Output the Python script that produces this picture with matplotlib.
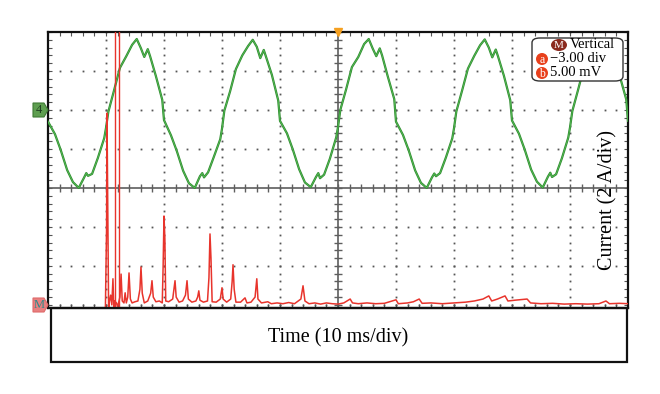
import matplotlib.pyplot as plt
import numpy as np
from matplotlib.patches import Polygon, Ellipse, FancyBboxPatch, Rectangle

# green trace: current (div), time in ms
g_t0 = [0.0, 1.2, 2.2, 3.3, 4.3, 5.3, 6.2, 6.6, 6.9, 7.6, 8.6, 9.7, 10.0, 10.4, 11.4, 12.4, 13.5, 14.5, 15.3, 16.0, 16.6, 17.2, 17.6, 18.6, 19.7]
g_v0 = [1.70, 1.38, 0.97, 0.46, 0.15, 0.0, 0.26, 0.38, 0.31, 0.36, 0.77, 1.28, 1.54, 1.95, 2.51, 3.08, 3.38, 3.67, 3.82, 3.59, 3.36, 3.56, 3.38, 2.87, 2.26]
g_t1 = [20.0, 21.2, 22.2, 23.3, 24.3, 25.3, 26.2, 26.6, 26.9, 27.6, 28.6, 29.7, 30.0, 30.4, 31.4, 32.4, 33.5, 34.5, 35.3, 36.0, 36.6, 37.2, 37.6, 38.6, 39.7]
g_v1 = [1.74, 1.35, 0.95, 0.44, 0.12, 0.0, 0.30, 0.38, 0.27, 0.40, 0.80, 1.25, 1.52, 1.98, 2.48, 3.05, 3.40, 3.64, 3.80, 3.62, 3.33, 3.54, 3.36, 2.90, 2.24]
g_t2 = [40.0, 41.2, 42.2, 43.3, 44.3, 45.3, 46.2, 46.6, 46.9, 47.6, 48.6, 49.7, 50.0, 50.4, 51.4, 52.4, 53.5, 54.5, 55.3, 56.0, 56.6, 57.2, 57.6, 58.6, 59.7]
g_v2 = [1.72, 1.40, 0.99, 0.48, 0.14, 0.02, 0.28, 0.38, 0.25, 0.34, 0.75, 1.30, 1.56, 2.00, 2.53, 3.10, 3.36, 3.69, 3.82, 3.57, 3.38, 3.58, 3.40, 2.85, 2.28]
g_t3 = [60.0, 61.2, 62.2, 63.3, 64.3, 65.3, 66.2, 66.6, 66.9, 67.6, 68.6, 69.7, 70.0, 70.4, 71.4, 72.4, 73.5, 74.5, 75.3, 76.0, 76.6, 77.2, 77.6, 78.6, 79.7]
g_v3 = [1.70, 1.36, 0.96, 0.45, 0.13, 0.0, 0.27, 0.37, 0.30, 0.38, 0.78, 1.27, 1.53, 1.96, 2.50, 3.06, 3.39, 3.66, 3.81, 3.60, 3.35, 3.55, 3.37, 2.88, 2.25]
g_t4 = [80.0, 81.2, 82.2, 83.3, 84.3, 85.3, 86.2, 86.6, 86.9, 87.6, 88.6, 89.7, 90.0, 90.4, 91.4, 92.4, 93.5, 94.5, 95.3, 96.0, 96.6, 97.2, 97.6, 98.6, 99.7, 100.0]
g_v4 = [1.73, 1.39, 0.98, 0.47, 0.16, 0.01, 0.29, 0.39, 0.28, 0.35, 0.76, 1.29, 1.55, 1.97, 2.52, 3.09, 3.37, 3.68, 3.83, 3.58, 3.37, 3.57, 3.39, 2.86, 2.27, 1.72]

# red trace (math channel), offset -3.00 div
r_t = [9.9, 10.1, 10.17, 10.3, 10.45, 10.6, 10.8, 11.0, 11.2, 11.35, 11.5, 11.8, 12.0, 12.4, 12.6, 12.8, 13.1, 13.3, 13.5, 13.75,
       13.97, 14.2, 14.5, 15.0, 15.5, 15.85, 16.03, 16.25, 16.6, 17.2, 17.7, 17.93, 18.15, 18.6, 19.2, 19.7, 19.85, 20.0, 20.15, 20.3,
       20.8, 21.5, 21.9, 22.1, 22.6, 23.2, 23.7, 23.97, 24.2, 24.8, 25.5, 25.8, 26.0, 26.2, 26.8, 27.5, 27.75, 27.93, 28.1, 28.3,
       29.0, 29.7, 30.0, 30.2, 30.8, 31.5, 31.75, 31.9, 32.1, 32.4, 33.2, 33.97, 34.3, 35.0, 35.7, 36.0, 36.2, 36.8, 37.9, 38.5,
       39.5, 40.5, 41.5, 42.5, 43.6, 43.97, 44.3, 45.0, 46.0, 47.0, 48.0, 49.0, 50.0, 51.0, 52.1, 52.5, 53.5, 55.0, 56.5, 58.0,
       60.0, 60.4, 62.0, 63.0, 64.0, 64.5, 66.0, 68.0, 70.0, 72.0, 73.5, 75.0, 76.0, 76.5, 77.5, 78.8, 79.3, 80.5, 82.6, 83.2,
       85.0, 87.0, 89.0, 91.0, 93.0, 95.0, 96.2, 96.8, 98.5, 100.0]
r_v = [-3.05, -1.0, 1.92, -0.56, -3.1, -2.9, -2.75, -3.0, -2.33, -3.1, -2.9, -2.95, -3.05, -2.8, -2.21, -2.9, -2.95, -2.69, -2.95, -2.8,
       -2.18, -2.85, -2.95, -2.92, -2.9, -2.6, -2.03, -2.7, -2.95, -2.9, -2.7, -2.38, -2.8, -2.92, -2.9, -2.95, -2.0, -0.72, -1.3, -2.9,
       -2.92, -2.85, -2.38, -2.8, -2.93, -2.9, -2.75, -2.38, -2.85, -2.93, -2.9, -2.8, -2.64, -2.88, -2.93, -2.9, -2.3, -1.18, -1.8, -2.92,
       -2.93, -2.85, -2.56, -2.85, -2.93, -2.85, -2.4, -1.97, -2.6, -2.93, -2.93, -2.82, -2.95, -2.93, -2.8, -2.33, -2.85, -2.95, -2.92, -2.97,
       -2.95, -2.97, -2.94, -2.97, -2.85, -2.51, -2.9, -2.97, -2.95, -2.98, -2.95, -2.97, -2.98, -2.95, -2.85, -2.95, -2.97, -2.95, -2.97, -2.96,
       -2.87, -2.97, -2.95, -2.92, -2.85, -2.96, -2.95, -2.97, -2.95, -2.93, -2.9, -2.85, -2.77, -2.9, -2.85, -2.77, -2.9, -2.88, -2.85, -2.95,
       -2.97, -2.96, -2.98, -2.97, -2.98, -2.97, -2.9, -2.97, -2.96, -2.97]

cursors = [11.6, 12.24]

serif = ['Liberation Serif', 'DejaVu Serif']
W, H = 660, 394

fig = plt.figure(figsize=(6.6, 3.94), dpi=100)
ax = fig.add_axes([48 / W, 1 - 308 / H, 580 / W, 276 / H])
ax.set_xlim(0, 100)
ax.set_ylim(-3.08, 4.0)

# dotted graticule
for yl in [-3, -2, -1, 1, 2, 3]:
    xs = np.arange(0, 100.1, 2)
    ax.plot(xs, np.full_like(xs, yl), ls='none', marker='s', ms=1.3, color='#555555', mew=0)
for xl in [10, 20, 30, 40, 60, 70, 80, 90]:
    ys = np.arange(-3.0, 4.01, 0.2)
    ax.plot(np.full_like(ys, xl), ys, ls='none', marker='s', ms=1.3, color='#555555', mew=0)

# center axes with small ticks
ax.axhline(0, color='#5e5e5e', lw=1.2)
ax.axvline(50, color='#5e5e5e', lw=1.2)
xs = np.arange(0, 100.1, 2)
ax.plot(xs, np.zeros_like(xs), ls='none', marker='|', ms=6, color='#5e5e5e', mew=1.0)
ys = np.arange(-3.0, 4.01, 0.2)
ax.plot(np.full_like(ys, 50), ys, ls='none', marker='_', ms=6, color='#5e5e5e', mew=1.0)

# traces
g_t = g_t0 + g_t1 + g_t2 + g_t3 + g_t4
g_v = g_v0 + g_v1 + g_v2 + g_v3 + g_v4
ax.plot(g_t, g_v, color='#2f8a2f', lw=1.6, zorder=4)
ax.plot(g_t, g_v, color='#55bb55', lw=0.6, zorder=4)
ax.plot(r_t, r_v, color='#e8342c', lw=1.1, zorder=5)
for c in cursors:
    ax.axvline(c, color='#e8342c', lw=1.0, zorder=5)

ax.plot([50], [4.0], marker='v', ms=6, color='#f5a020', clip_on=False, zorder=6)

ax.set_xticks(np.arange(0, 100.1, 2))
ax.set_yticks(np.arange(-3.0, 4.01, 0.2))
ax.tick_params(direction='in', length=3, width=0.8, color='#555555', top=True, right=True,
               labelbottom=False, labelleft=False)
for s in ax.spines.values():
    s.set_linewidth(1.6)
    s.set_color('#111111')

# right-side label
fig.text(608 / W, 1 - 200 / H, 'Current (2 A/div)', rotation=90, ha='center', va='center',
         fontsize=14.5, family=serif)

# bottom time box
fig.add_artist(Rectangle((51 / W, 1 - 362 / H), 576 / W, 54 / H, transform=fig.transFigure,
                         fill=False, ec='#111111', lw=1.6))
fig.text(338 / W, 1 - 338 / H, 'Time (10 ms/div)', ha='center', va='center', fontsize=14.5, family=serif)

# vertical info box
fig.add_artist(FancyBboxPatch((532 / W, 1 - 81 / H), 91 / W, 43 / H, transform=fig.transFigure,
                              boxstyle='round,pad=0,rounding_size=0.012', fc='white', ec='#333333', lw=1.0, zorder=10))
fig.add_artist(Ellipse((559 / W, 1 - 45 / H), 16 / W, 12 / H, transform=fig.transFigure, fc='#8b2a1e', ec='none', zorder=11))
fig.text(559 / W, 1 - 45.5 / H, 'M', ha='center', va='center', fontsize=8, color='white', family=serif, zorder=12)
fig.text(570 / W, 1 - 45 / H, 'Vertical', ha='left', va='center', fontsize=10.5, family=serif, zorder=12)
for lab, yy, txt in [('a', 59, '\u22123.00 div'), ('b', 73, '5.00 mV')]:
    fig.add_artist(Ellipse((542 / W, 1 - yy / H), 12 / W, 12 / H, transform=fig.transFigure, fc='#e8401c', ec='none', zorder=11))
    fig.text(542 / W, 1 - (yy + 1) / H, lab, ha='center', va='center', fontsize=8.5, color='white', family=serif, zorder=12)
    fig.text(550 / W, 1 - yy / H, txt, ha='left', va='center', fontsize=10.5, family=serif, zorder=12)

# channel tags at left
def tag(y, fc, ec, lab, tc):
    pts = [(33, y - 7), (44, y - 7), (48, y), (44, y + 7), (33, y + 7)]
    fig.add_artist(Polygon([(px / W, 1 - py / H) for px, py in pts], closed=True,
                           transform=fig.transFigure, fc=fc, ec=ec, lw=0.8))
    fig.text(39 / W, 1 - y / H, lab, ha='center', va='center', fontsize=9, color=tc, family=serif)

tag(110, '#5e9e50', '#3f7a35', '4', '#1f3f1f')
tag(305, '#e88080', '#e06a6a', 'M', '#2f8a8a')

fig.savefig('out.png', dpi=100)
